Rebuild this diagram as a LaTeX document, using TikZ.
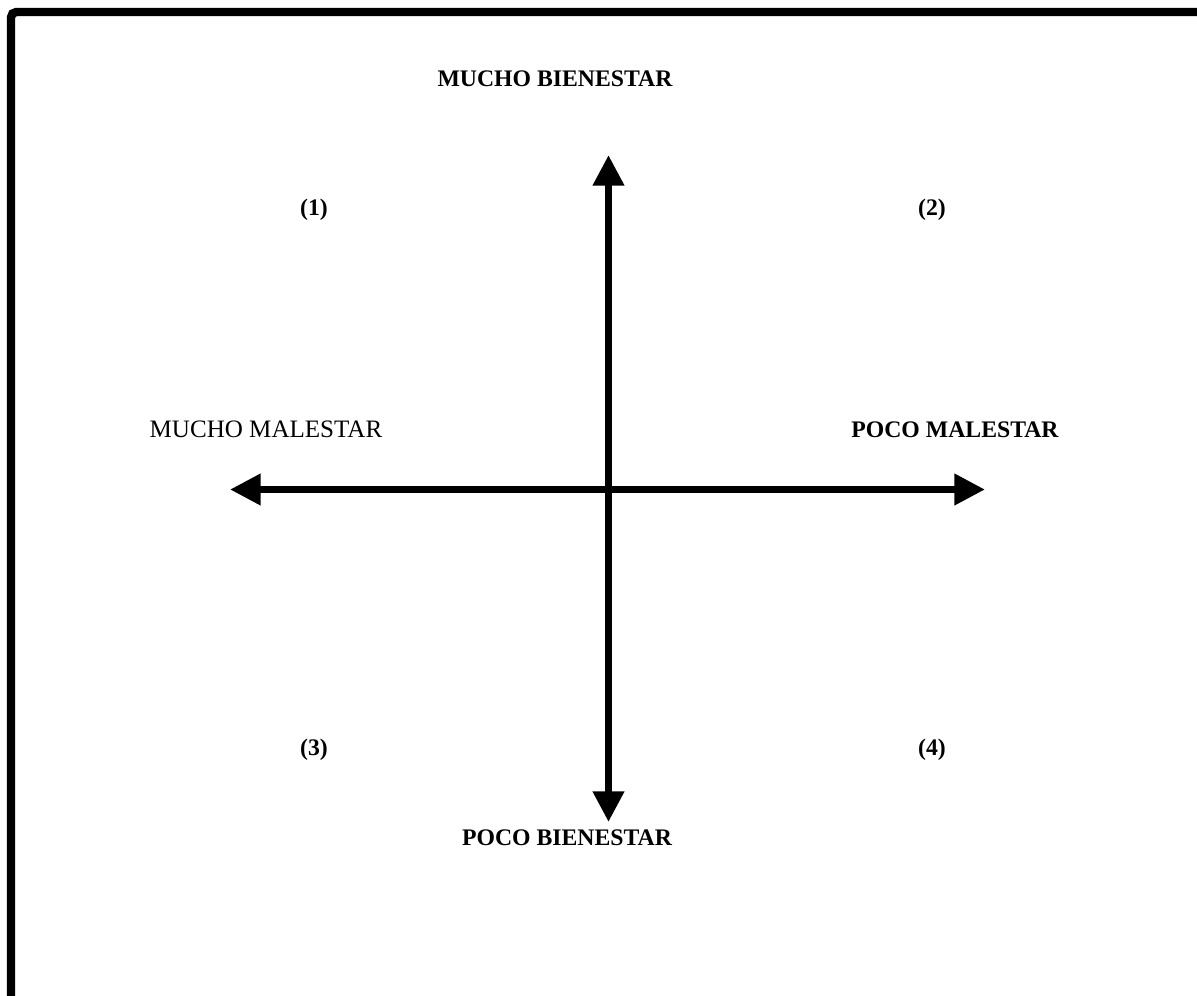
\documentclass[tikz,border=0pt]{standalone}
\usepackage{fontspec}
\setmainfont{Liberation Serif}
\usepackage{tikz}
\usetikzlibrary{positioning, arrows.meta}

\begin{document}
\begin{tikzpicture}[
  x=0.75pt, y=-0.75pt,
  every node/.style={font=\fontsize{18.8}{22}\selectfont, inner sep=0pt},
  axlabel/.style={anchor=base, font=\fontsize{17.8}{21}\selectfont\bfseries},
  quad/.style={anchor=base, font=\fontsize{17.8}{21}\selectfont\bfseries},
  axis/.style={{Triangle[length=23pt, width=22.5pt]}-{Triangle[length=23pt, width=22.5pt]},
    line width=5.4pt, black},
  frame/.style={line width=6.3pt, rounded corners=4pt}
]
  \useasboundingbox (0,0) rectangle (1197,996);
  \clip (0,0) rectangle (1197,996);

  % Outer frame (only left and top sides visible)
  \draw[frame] (11,1100) -- (11,12) -- (1300,12);

  % Axis end points
  \coordinate (top) at (608.5,155);
  \coordinate (bottom) at (608.5,822);
  \coordinate (left) at (230,489.5);
  \coordinate (right) at (985,489.5);

  % Axes
  \draw[axis] (bottom) -- (top);
  \draw[axis] (left) -- (right);

  % Axis labels
  \node[axlabel] (mbien) at (555,86) {MUCHO BIENESTAR};
  \node[axlabel] (pbien) at (567,845) {POCO BIENESTAR};
  \node[anchor=base] (mmal) at (266,437) {MUCHO MALESTAR};
  \node[axlabel] (pmal) at (955,437) {POCO MALESTAR};

  % Quadrants
  \node[quad] (q1) at (314,215) {(1)};
  \node[quad] (q2) at (932,215) {(2)};
  \node[quad] (q3) at (314,755) {(3)};
  \node[quad] (q4) at (932,755) {(4)};
\end{tikzpicture}
\end{document}
